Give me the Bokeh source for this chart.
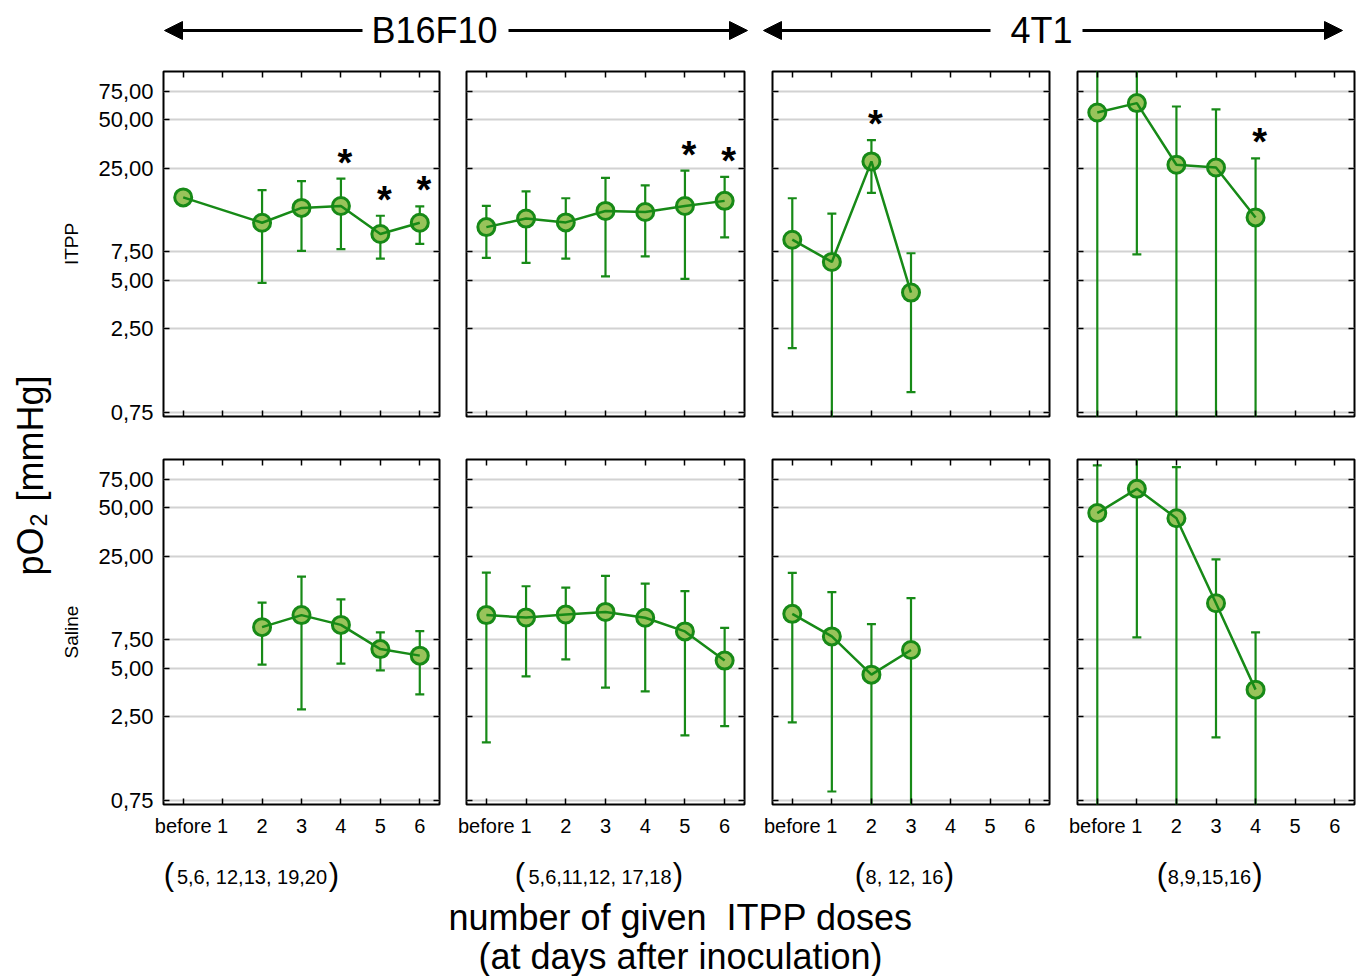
import numpy as np
from bokeh.plotting import figure
from bokeh.layouts import row, column
from bokeh.models import (Range1d, FixedTicker, LogAxis, LinearAxis,
                          CustomJSTickFormatter, Arrow, NormalHead)
from bokeh.core.properties import value
from bokeh.embed import file_html
from bokeh.resources import INLINE

FONT = "Liberation Sans"
GREEN = "#178a17"
FILL = "#98c35a"
GRID = "#d2d2d2"

# ---------------- data ----------------
x_ticks = [0, 1, 2, 3, 4, 5, 6]
x_tick_labels = ["before", "1", "2", "3", "4", "5", "6"]
y_ticks = [0.75, 2.5, 5, 7.5, 25, 50, 75]
y_tick_labels = ["0,75", "2,50", "5,00", "7,50", "25,00", "50,00", "75,00"]

row_labels = ["ITPP", "Saline"]
cell_lines = ["B16F10", "4T1"]
schedules = ["5,6, 12,13, 19,20", "5,6,11,12, 17,18", "8, 12, 16", "8,9,15,16"]
y_title = ["pO", "2", "[mmHg]"]
x_title = ["number of given\u00a0 ITPP doses", "(at days after inoculation)"]

# ITPP row
itpp_b16a_x = [0, 2, 3, 4, 5, 6]
itpp_b16a_mean = [16.4, 11.4, 14.1, 14.5, 9.7, 11.4]
itpp_b16a_lo = [16.4, 4.8, 7.6, 7.8, 6.8, 8.4]
itpp_b16a_hi = [16.4, 18.2, 20.7, 21.5, 12.6, 14.4]
itpp_b16a_stars = [4, 5, 6]

itpp_b16b_x = [0, 1, 2, 3, 4, 5, 6]
itpp_b16b_mean = [10.7, 12.1, 11.45, 13.5, 13.3, 14.5, 15.6]
itpp_b16b_lo = [6.87, 6.4, 6.8, 5.28, 7.03, 5.09, 9.23]
itpp_b16b_hi = [14.5, 17.9, 16.2, 21.7, 19.5, 24.1, 22.0]
itpp_b16b_stars = [5, 6]

itpp_4t1a_x = [0, 1, 2, 3]
itpp_4t1a_mean = [8.93, 6.49, 27.5, 4.18]
itpp_4t1a_lo = [1.88, 0.3, 17.5, 1.0]
itpp_4t1a_hi = [16.2, 13.0, 37.3, 7.35]
itpp_4t1a_stars = [2]

itpp_4t1b_x = [0, 1, 2, 3, 4]
itpp_4t1b_mean = [55.5, 63.5, 26.2, 25.2, 12.3]
itpp_4t1b_lo = [0.3, 7.24, 0.3, 0.3, 0.3]
itpp_4t1b_hi = [200.0, 200.0, 60.5, 58.0, 28.7]
itpp_4t1b_stars = [4]

# Saline row
sal_b16a_x = [2, 3, 4, 5, 6]
sal_b16a_mean = [9.0, 10.7, 9.3, 6.57, 5.98]
sal_b16a_lo = [5.26, 2.76, 5.33, 4.84, 3.43]
sal_b16a_hi = [12.8, 18.6, 13.4, 8.35, 8.5]

sal_b16b_x = [0, 1, 2, 3, 4, 5, 6]
sal_b16b_mean = [10.7, 10.35, 10.8, 11.2, 10.3, 8.47, 5.57]
sal_b16b_lo = [1.72, 4.44, 5.67, 3.78, 3.58, 1.9, 2.17]
sal_b16b_hi = [19.7, 16.2, 15.9, 18.8, 16.8, 15.1, 8.9]

sal_4t1a_x = [0, 1, 2, 3]
sal_4t1a_mean = [10.9, 7.88, 4.55, 6.48]
sal_4t1a_lo = [2.29, 0.85, 0.3, 0.3]
sal_4t1a_hi = [19.6, 14.9, 9.4, 13.65]

sal_4t1b_x = [0, 1, 2, 3, 4]
sal_4t1b_mean = [46.3, 65.6, 43.0, 12.7, 3.67]
sal_4t1b_lo = [0.3, 7.78, 0.3, 1.85, 0.3]
sal_4t1b_hi = [92.0, 200.0, 89.5, 23.8, 8.35]

panels = [
    [(itpp_b16a_x, itpp_b16a_mean, itpp_b16a_lo, itpp_b16a_hi, itpp_b16a_stars),
     (itpp_b16b_x, itpp_b16b_mean, itpp_b16b_lo, itpp_b16b_hi, itpp_b16b_stars),
     (itpp_4t1a_x, itpp_4t1a_mean, itpp_4t1a_lo, itpp_4t1a_hi, itpp_4t1a_stars),
     (itpp_4t1b_x, itpp_4t1b_mean, itpp_4t1b_lo, itpp_4t1b_hi, itpp_4t1b_stars)],
    [(sal_b16a_x, sal_b16a_mean, sal_b16a_lo, sal_b16a_hi, []),
     (sal_b16b_x, sal_b16b_mean, sal_b16b_lo, sal_b16b_hi, []),
     (sal_4t1a_x, sal_4t1a_mean, sal_4t1a_lo, sal_4t1a_hi, []),
     (sal_4t1b_x, sal_4t1b_mean, sal_4t1b_lo, sal_4t1b_hi, [])],
]

# ---------------- helpers ----------------
def tick_fmt(tvals, tlabels):
    return CustomJSTickFormatter(
        args=dict(tvals=tvals, tlabels=tlabels),
        code="const i = tvals.findIndex(t => Math.abs(t - tick) < 1e-9);"
             "return i >= 0 ? tlabels[i] : '';")


def style_axis(ax, show, size="20px", standoff=10):
    ax.axis_line_color = None
    ax.major_tick_in = 6
    ax.major_tick_out = 0
    ax.major_tick_line_color = "black"
    ax.major_tick_line_width = 1.5
    ax.minor_tick_line_color = None
    ax.major_label_text_font = FONT
    ax.major_label_text_color = "black"
    if show:
        ax.major_label_text_font_size = size
        ax.major_label_standoff = standoff
    else:
        ax.formatter = CustomJSTickFormatter(code="return '';")
        ax.major_label_text_font_size = "0px"
        ax.major_label_standoff = 0


FH = 345
FWS = [277, 278, 277, 277]
LBS = [104, 14, 14, 14]
RBS = [13, 14, 14, 5]


def make_panel(ri, ci):
    xs, mean, lo, hi, stars = panels[ri][ci]
    lb, rb, fw = LBS[ci], RBS[ci], FWS[ci]
    tb = 5 if ri == 0 else 22
    bb = 21 if ri == 0 else 40
    p = figure(width=lb + fw + rb, height=tb + FH + bb,
               x_range=Range1d(-0.5, 6.5), y_range=Range1d(0.705, 100),
               y_axis_type="log", output_backend="svg", toolbar_location=None,
               min_border_left=lb, min_border_right=rb,
               min_border_top=tb, min_border_bottom=bb)
    p.outline_line_color = "black"
    p.outline_line_width = 2
    p.background_fill_color = "white"
    p.border_fill_color = "white"

    yax = p.yaxis[0]
    yax.ticker = FixedTicker(ticks=y_ticks)
    yax.formatter = tick_fmt(y_ticks, y_tick_labels)
    style_axis(yax, ci == 0, "22px", 10)
    if ci == 0:
        yax.axis_label = row_labels[ri]
        yax.axis_label_text_font = FONT
        yax.axis_label_text_font_size = "19px"
        yax.axis_label_text_font_style = "normal"
        yax.axis_label_text_color = "black"
        yax.axis_label_standoff = 13
    xax = p.xaxis[0]
    xax.ticker = FixedTicker(ticks=x_ticks)
    xax.formatter = tick_fmt(x_ticks, x_tick_labels)
    style_axis(xax, ri == 1, "20px", 10)

    rax = LogAxis(ticker=FixedTicker(ticks=y_ticks))
    style_axis(rax, False)
    p.add_layout(rax, "right")
    tax = LinearAxis(ticker=FixedTicker(ticks=x_ticks))
    style_axis(tax, False)
    p.add_layout(tax, "above")

    p.xgrid.visible = False
    p.ygrid.ticker = FixedTicker(ticks=y_ticks)
    p.ygrid.grid_line_color = GRID
    p.ygrid.grid_line_width = 2

    p.segment(x0=xs, y0=lo, x1=xs, y1=hi, line_color=GREEN, line_width=2.2)
    p.scatter(x=xs + xs, y=lo + hi, marker="dash", size=9,
              line_color=GREEN, line_width=2.2)
    p.scatter(x=xs, y=mean, size=17, fill_color=FILL, line_color=GREEN,
              line_width=3)
    p.line(x=xs, y=mean, line_color=GREEN, line_width=2.5)
    if stars:
        sy = [hi[xs.index(s)] for s in stars]
        p.text(x=stars, y=sy, text=["*"] * len(stars), text_font=value(FONT),
               text_font_size="38px", text_font_style="bold",
               text_color="black", text_align="center",
               text_baseline="alphabetic", x_offset=4, y_offset=-16)
    return p


def blank(w, h, xr, yr):
    p = figure(width=w, height=h, x_range=Range1d(*xr), y_range=Range1d(*yr),
               x_axis_type=None, y_axis_type=None, output_backend="svg",
               toolbar_location=None, min_border=0)
    p.outline_line_color = None
    p.background_fill_color = "white"
    p.border_fill_color = "white"
    return p


# ---------------- header (screen pixel coordinates, y negated) ----------------
W = 1359
header = blank(W, 66, (0, W), (-66, 0))
header.text(x=[434, 1041], y=[-30, -30], text=cell_lines, text_font=value(FONT),
            text_font_size="36px", text_align="center", text_baseline="middle",
            text_color="black")
for xs_, xe_ in [(362, 164), (508, 747), (990, 763), (1082, 1342)]:
    header.add_layout(Arrow(end=NormalHead(size=18, fill_color="black",
                                           line_color="black", line_width=1),
                            x_start=xs_, y_start=-30, x_end=xe_, y_end=-30,
                            line_width=3, line_color="black"))

# ---------------- left title ----------------
left = blank(58, 778, (0, 58), (-844, -66))
left.text(x=[30], y=[-575], text=[y_title[0]], angle=np.pi / 2,
          text_font=value(FONT), text_font_size="36px", text_align="left",
          text_baseline="middle", text_color="black")
left.text(x=[38], y=[-526], text=[y_title[1]], angle=np.pi / 2,
          text_font=value(FONT), text_font_size="23px", text_align="left",
          text_baseline="middle", text_color="black")
left.text(x=[30], y=[-501], text=[y_title[2]], angle=np.pi / 2,
          text_font=value(FONT), text_font_size="36px", text_align="left",
          text_baseline="middle", text_color="black")

# ---------------- footer ----------------
footer = blank(W, 132, (0, W), (-976, -844))
inner_cx = [251.5, 599.5, 904, 1209]
lpar_cx = [168.5, 519.5, 859.5, 1161.5]
rpar_cx = [333.5, 677.5, 948.5, 1257]
footer.text(x=inner_cx, y=[-876] * 4, text=schedules, text_font=value(FONT),
            text_font_size="20px", text_align="center", text_baseline="middle",
            text_color="black")
footer.text(x=lpar_cx, y=[-874] * 4, text=["("] * 4, text_font=value(FONT),
            text_font_size="31px", text_align="center", text_baseline="middle",
            text_color="black")
footer.text(x=rpar_cx, y=[-874] * 4, text=[")"] * 4, text_font=value(FONT),
            text_font_size="31px", text_align="center", text_baseline="middle",
            text_color="black")
footer.text(x=[680, 680], y=[-917, -956], text=x_title, text_font=value(FONT),
            text_font_size="36px", text_align="center", text_baseline="middle",
            text_color="black")

grid_col = column(row(*[make_panel(0, c) for c in range(4)]),
                  row(*[make_panel(1, c) for c in range(4)]))
layout = column(header, row(left, grid_col), footer)

open("out.html", "w").write(file_html(layout, INLINE))
